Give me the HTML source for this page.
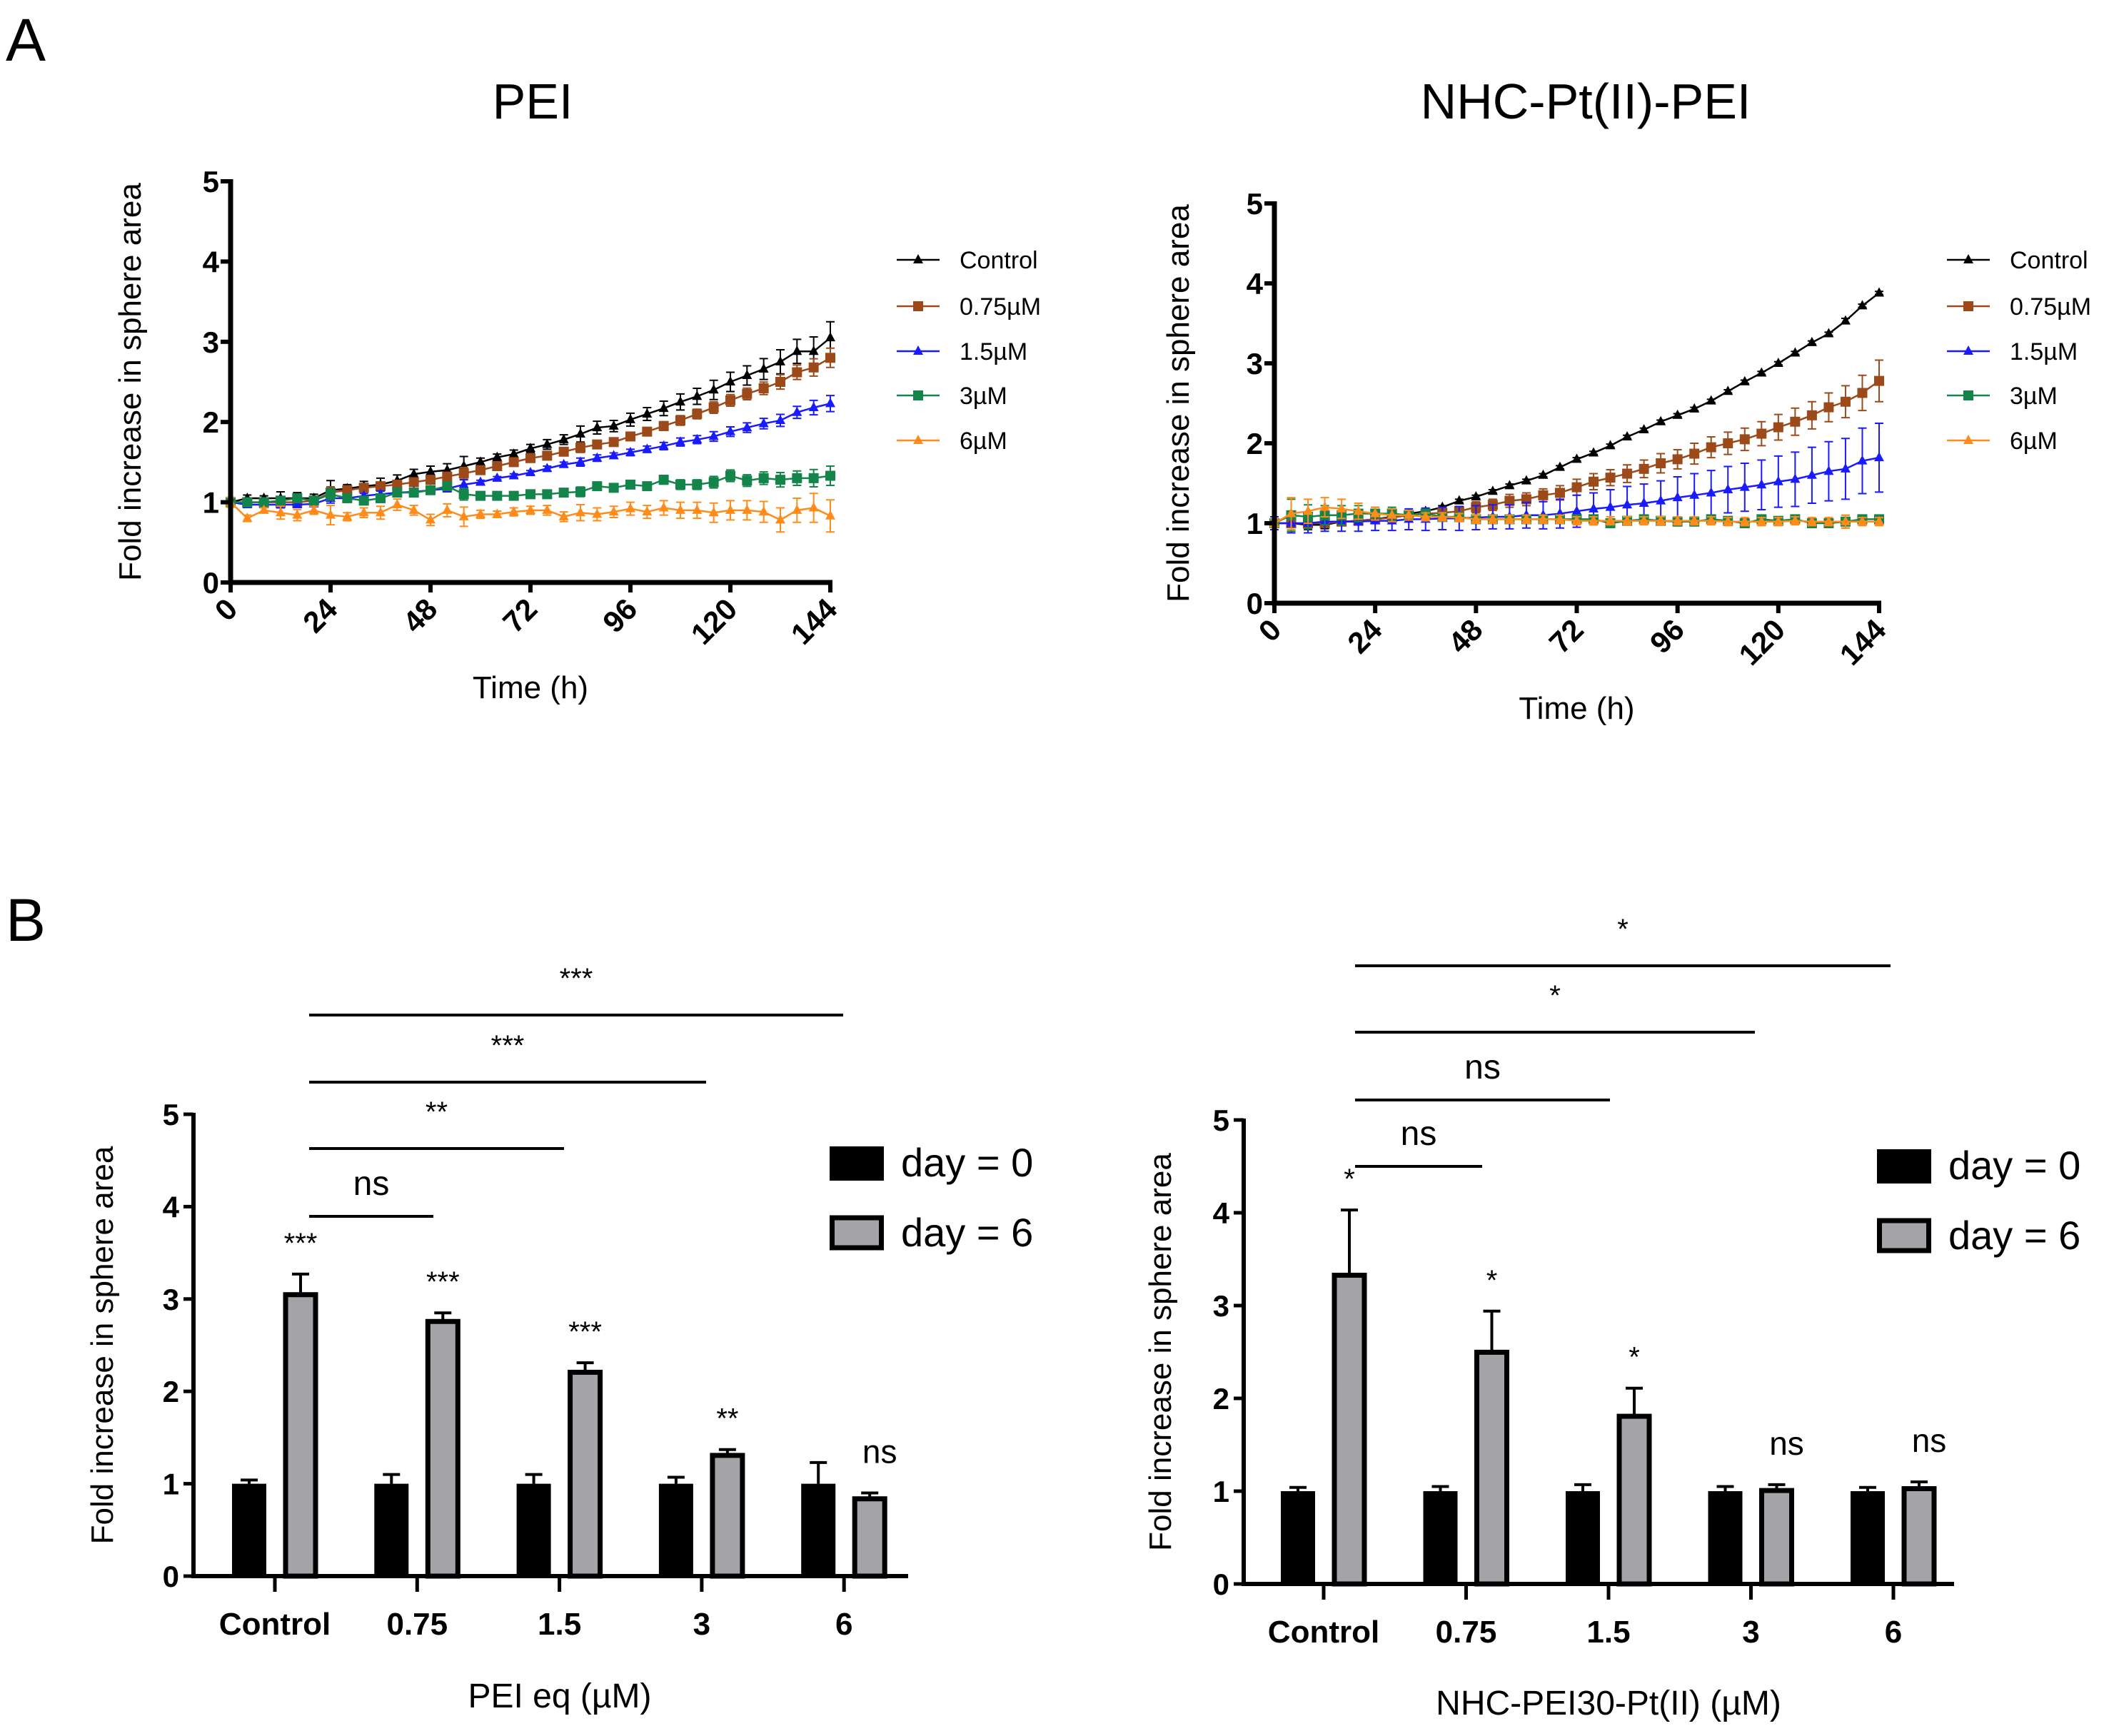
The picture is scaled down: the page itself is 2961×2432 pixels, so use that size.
<!DOCTYPE html>
<html><head><meta charset="utf-8"><style>
html,body{margin:0;padding:0;background:#fff}
svg{display:block}
text{font-family:"Liberation Sans",Arial,sans-serif}
</style></head><body>
<svg id="fig" width="2961" height="2432" viewBox="0 0 2961 2432" xmlns="http://www.w3.org/2000/svg">
<text x="8" y="85" font-size="84">A</text>
<text x="8" y="1318" font-size="84">B</text>
<text x="746" y="166" font-size="70" text-anchor="middle">PEI</text>
<text x="2221" y="166" font-size="70" text-anchor="middle">NHC-Pt(II)-PEI</text>
</svg>
<script>
var hours=[];for(var h=0;h<=144;h+=4)hours.push(h);
var seriesNames=["Control","0.75\u00b5M","1.5\u00b5M","3\u00b5M","6\u00b5M"];
var peiControl=[1.0,1.05,1.05,1.05,1.05,1.05,1.15,1.17,1.2,1.22,1.27,1.35,1.38,1.4,1.45,1.5,1.56,1.6,1.67,1.72,1.78,1.85,1.93,1.95,2.03,2.1,2.17,2.25,2.32,2.4,2.5,2.58,2.66,2.75,2.88,2.88,3.05];
var pei075=[1.0,1.0,1.0,1.0,1.0,1.02,1.12,1.15,1.18,1.2,1.22,1.25,1.28,1.32,1.36,1.4,1.45,1.5,1.55,1.58,1.63,1.68,1.72,1.75,1.82,1.88,1.95,2.02,2.1,2.18,2.27,2.35,2.42,2.5,2.62,2.68,2.8];
var pei15=[1.0,0.97,0.97,0.97,0.97,0.98,1.05,1.05,1.08,1.1,1.12,1.13,1.15,1.17,1.22,1.25,1.3,1.33,1.37,1.42,1.47,1.5,1.55,1.58,1.62,1.66,1.7,1.75,1.78,1.82,1.88,1.93,1.98,2.02,2.12,2.18,2.23];
var pei3=[1.0,1.0,1.0,1.02,1.05,1.02,1.1,1.05,1.02,1.05,1.12,1.12,1.15,1.2,1.1,1.08,1.08,1.08,1.1,1.1,1.12,1.13,1.2,1.18,1.22,1.2,1.28,1.22,1.22,1.25,1.33,1.27,1.3,1.28,1.3,1.3,1.33];
var pei6=[1.0,0.8,0.9,0.87,0.84,0.9,0.84,0.82,0.87,0.87,0.97,0.9,0.78,0.9,0.82,0.85,0.85,0.88,0.9,0.9,0.82,0.87,0.85,0.88,0.92,0.88,0.93,0.9,0.9,0.87,0.9,0.9,0.88,0.78,0.9,0.93,0.83];
var peiErr=[0.06,0.04,0.03,0.08,0.07,0.05,0.12,0.05,0.06,0.08,0.07,0.06,0.07,0.08,0.12,0.05,0.04,0.05,0.05,0.06,0.06,0.1,0.08,0.07,0.08,0.08,0.09,0.1,0.1,0.12,0.12,0.12,0.13,0.15,0.15,0.18,0.2];
var nhcControl=[1.0,1.0,0.98,0.98,1.02,1.03,1.05,1.08,1.12,1.15,1.2,1.28,1.33,1.4,1.47,1.53,1.6,1.7,1.8,1.88,1.97,2.08,2.17,2.27,2.35,2.43,2.53,2.65,2.77,2.88,3.0,3.13,3.26,3.37,3.53,3.72,3.88];
var nhc075=[1.0,1.0,1.0,1.0,1.02,1.03,1.05,1.07,1.1,1.12,1.13,1.15,1.2,1.23,1.28,1.3,1.35,1.38,1.45,1.52,1.57,1.62,1.68,1.75,1.8,1.87,1.95,2.0,2.05,2.12,2.2,2.27,2.35,2.45,2.52,2.63,2.78];
var nhc15=[1.0,1.0,1.0,1.02,1.02,1.02,1.03,1.03,1.05,1.05,1.06,1.06,1.07,1.08,1.08,1.1,1.1,1.12,1.15,1.18,1.2,1.23,1.25,1.28,1.32,1.35,1.38,1.42,1.45,1.48,1.52,1.55,1.6,1.65,1.68,1.78,1.82];
var nhc3=[1.0,1.1,1.08,1.1,1.1,1.12,1.12,1.12,1.1,1.12,1.08,1.08,1.05,1.05,1.05,1.05,1.05,1.05,1.05,1.05,1.0,1.03,1.05,1.03,1.02,1.02,1.05,1.03,1.0,1.05,1.03,1.05,1.0,1.0,1.02,1.05,1.05];
var nhc6=[1.0,1.12,1.15,1.2,1.18,1.15,1.12,1.1,1.1,1.08,1.08,1.07,1.05,1.05,1.05,1.05,1.05,1.05,1.03,1.03,1.03,1.03,1.03,1.03,1.03,1.03,1.03,1.02,1.02,1.02,1.02,1.03,1.02,1.02,1.02,1.02,1.02];
var nhcErr075=[0.03,0.05,0.05,0.05,0.05,0.05,0.05,0.05,0.05,0.06,0.06,0.06,0.07,0.07,0.08,0.08,0.08,0.09,0.1,0.1,0.1,0.11,0.11,0.12,0.12,0.13,0.13,0.14,0.14,0.15,0.16,0.17,0.17,0.18,0.2,0.22,0.26];
var nhcErr15=[0.08,0.12,0.12,0.12,0.12,0.12,0.12,0.12,0.13,0.14,0.14,0.15,0.15,0.15,0.15,0.16,0.17,0.18,0.2,0.2,0.22,0.23,0.24,0.25,0.26,0.27,0.28,0.29,0.3,0.31,0.32,0.34,0.35,0.37,0.38,0.41,0.43];
var nhcErrSmall=[0.05,0.2,0.15,0.12,0.12,0.1,0.08,0.08,0.06,0.05,0.05,0.05,0.05,0.05,0.05,0.05,0.05,0.05,0.05,0.05,0.05,0.05,0.05,0.05,0.05,0.05,0.05,0.05,0.05,0.05,0.05,0.05,0.05,0.05,0.08,0.05,0.05];
var lineYTicks=[0,1,2,3,4,5];
var lineXTicks=[0,24,48,72,96,120,144];
var barCategories=["Control","0.75","1.5","3","6"];
var peiDay0=[1,1,1,1,1];
var peiDay0Err=[0.04,0.1,0.1,0.07,0.23];
var peiDay6=[3.07,2.78,2.23,1.33,0.86];
var peiDay6Err=[0.2,0.07,0.08,0.04,0.04];
var peiStars=["***","***","***","**","ns"];
var nhcDay0=[1,1,1,1,1];
var nhcDay0Err=[0.04,0.05,0.07,0.05,0.04];
var nhcDay6=[3.35,2.52,1.83,1.03,1.05];
var nhcDay6Err=[0.68,0.42,0.28,0.04,0.05];
var nhcStars=["*","*","*","ns","ns"];
var peiCompLabels=["ns","**","***","***"];
var nhcCompLabels=["ns","ns","*","*"];

var NS="http://www.w3.org/2000/svg",svg=document.getElementById('fig');
function el(t,a,p){var e=document.createElementNS(NS,t);for(var k in a)e.setAttribute(k,a[k]);(p||svg).appendChild(e);return e;}
var colors=["#000000","#9c4a1a","#1a1aff","#13854a","#ff8c1a"];
var shapes=["tri","sq","tri","sq","tri"];
function marker(g,s,x,y,c){
  var m;
  if(s==="tri"){m=el('polygon',{points:(x)+','+(y-8)+' '+(x-7)+','+(y+5)+' '+(x+7)+','+(y+5),fill:c},g);}
  else{m=el('rect',{x:x-7,y:y-7,width:14,height:14,fill:c},g);}
  
  
}
function lineChart(o){
  var X=function(h){return o.x0+(h/144)*(o.x1-o.x0);};
  var Y=function(v){return o.y0-(v/5)*(o.y0-o.y5);};
  var g=el('g',{});
  o.series.forEach(function(s,i){
    var sg=el('g',{},g);
    var pts=s.map(function(v,j){return X(hours[j])+','+Y(v);}).join(' ');
    el('polyline',{points:pts,fill:'none',stroke:colors[i],'stroke-width':2.5},sg);
    var e=o.errs[i];
    s.forEach(function(v,j){
      var x=X(hours[j]),yt=Y(v+e[j]),yb=Y(v-e[j]);
      el('path',{d:'M'+x+' '+yt+'V'+yb+'M'+(x-6)+' '+yt+'H'+(x+6)+'M'+(x-6)+' '+yb+'H'+(x+6),stroke:colors[i],'stroke-width':2,fill:'none'},sg);
    });
    s.forEach(function(v,j){marker(sg,shapes[i],X(hours[j]),Y(v),colors[i]);});
  });
  var ax=el('path',{d:'M'+o.x0+' '+(o.y5-3)+'V'+o.y0+'H'+(o.x1+3),stroke:'#000','stroke-width':7,fill:'none'},g);
  
  lineYTicks.forEach(function(t){
    var y=Y(t);el('line',{x1:o.x0-14,x2:o.x0,y1:y,y2:y,stroke:'#000','stroke-width':6},g);
    var tx=el('text',{x:o.x0-16,y:y+15,'font-size':42,'font-weight':'bold','text-anchor':'end'},g);tx.textContent=t;
    
  });
  lineXTicks.forEach(function(t){
    var x=X(t);el('line',{x1:x,x2:x,y1:o.y0,y2:o.y0+14,stroke:'#000','stroke-width':6},g);
    var tx=el('text',{x:x+12,y:o.y0+40,'font-size':42,'font-weight':'bold','text-anchor':'end',transform:'rotate(-45 '+(x+12)+' '+(o.y0+40)+')'},g);tx.textContent=t;
    
  });
  var xt=el('text',{x:(o.x0+o.x1)/2,y:o.y0+162,'font-size':44,'text-anchor':'middle'},g);xt.textContent='Time (h)';
  
  var yt=el('text',{x:o.ytx,y:(o.y0+o.y5)/2,'font-size':44,'text-anchor':'middle',transform:'rotate(-90 '+o.ytx+' '+((o.y0+o.y5)/2)+')'},g);yt.textContent='Fold increase in sphere area';
  
  var lg=el('g',{},g);
  var rows=[364,429,492,554,617];
  seriesNames.forEach(function(n,i){
    var eg=el('g',{},lg);
    el('line',{x1:o.lx,x2:o.lx+60,y1:rows[i],y2:rows[i],stroke:colors[i],'stroke-width':2.5},eg);
    marker(eg,shapes[i],o.lx+30,rows[i],colors[i]);
    var t=el('text',{x:o.lx+88,y:rows[i]+12,'font-size':34},eg);t.textContent=n;
  });
}
lineChart({name:'pei-line-chart',x0:323,x1:1163,y0:816,y5:254,ytx:197,lx:1256,series:[peiControl,pei075,pei15,pei3,pei6],errs:[peiErr,peiErr.map(function(e){return e*0.6;}),peiErr.map(function(e){return e*0.5;}),peiErr.map(function(e){return e*0.6;}),peiErr]});
lineChart({name:'nhc-line-chart',x0:1785,x1:2632,y0:845,y5:285,ytx:1665,lx:2727,series:[nhcControl,nhc075,nhc15,nhc3,nhc6],errs:[nhcErrSmall.map(function(e){return e*0.4;}),nhcErr075,nhcErr15,nhcErrSmall,nhcErrSmall]});

function barChart(o){
  var Y=function(v){return o.y0-(v/5)*(o.y0-o.y5);};
  var g=el('g',{});
  barCategories.forEach(function(c,i){
    var cx=o.c0+i*o.step;
    var xb=cx-36-24;
    var e0=o.d0e[i],v0=o.d0[i];
    el('path',{d:'M'+(xb+24)+' '+Y(v0)+'V'+Y(v0+e0)+'M'+(xb+12)+' '+Y(v0+e0)+'H'+(xb+36),stroke:'#000','stroke-width':4},g);
    var b=el('rect',{x:xb,y:Y(v0),width:48,height:o.y0-Y(v0),fill:'#000'},g);
    
    var xg=cx+36-24,v6=o.d6[i],e6=o.d6e[i];
    el('path',{d:'M'+(xg+24)+' '+Y(v6)+'V'+Y(v6+e6)+'M'+(xg+12)+' '+Y(v6+e6)+'H'+(xg+36),stroke:'#000','stroke-width':4},g);
    var b2=el('rect',{x:xg+3,y:Y(v6)+3,width:42,height:o.y0-Y(v6)-3,fill:'#a3a3a8',stroke:'#000','stroke-width':7},g);
    
    var isNs=o.stars[i]==='ns';
    var st=el('text',{x:xg+24+(isNs?14:0),y:Y(v6+e6)-(isNs?42:30),'font-size':isNs?46:40,'text-anchor':'middle'},g);st.textContent=o.stars[i];
    
    el('line',{x1:cx,x2:cx,y1:o.y0,y2:o.y0+22,stroke:'#000','stroke-width':5},g);
    var ct=el('text',{x:cx,y:o.y0+82,'font-size':44,'font-weight':'bold','text-anchor':'middle'},g);ct.textContent=c;
    
  });
  el('path',{d:'M'+o.x0+' '+(o.y5-2)+'V'+o.y0+'H'+o.x1,stroke:'#000','stroke-width':6,fill:'none'},g);
  [0,1,2,3,4,5].forEach(function(t){
    var y=Y(t);el('line',{x1:o.x0-14,x2:o.x0,y1:y,y2:y,stroke:'#000','stroke-width':5},g);
    var tx=el('text',{x:o.x0-20,y:y+15,'font-size':42,'font-weight':'bold','text-anchor':'end'},g);tx.textContent=t;
    
  });
  var yt=el('text',{x:o.ytx,y:(o.y0+o.y5)/2,'font-size':44,'text-anchor':'middle',transform:'rotate(-90 '+o.ytx+' '+((o.y0+o.y5)/2)+')'},g);yt.textContent='Fold increase in sphere area';
  
  var xt=el('text',{x:o.xtx,y:o.xty,'font-size':48,'text-anchor':'middle'},g);xt.textContent=o.xtitle;
  
  o.comps.forEach(function(cp,k){
    var ln=el('line',{x1:o.cl0,x2:o.compX[k],y1:o.compY[k],y2:o.compY[k],stroke:'#000','stroke-width':4},g);
    
    var isNs=cp==='ns';
    var t=el('text',{x:(o.cl0+o.compX[k])/2,y:o.compY[k]-(isNs?30:38),'font-size':isNs?48:40,'text-anchor':'middle'},g);t.textContent=cp;
    
  });
  var lg=el('g',{},g);
  el('rect',{x:o.lx,y:o.ly,width:76,height:48,fill:'#000'},lg);
  el('rect',{x:o.lx+3.5,y:o.ly+100,width:69,height:42,fill:'#a3a3a8',stroke:'#000','stroke-width':7},lg);
  var t1=el('text',{x:o.lx+100,y:o.ly+42,'font-size':56},lg);t1.textContent='day = 0';
  var t2=el('text',{x:o.lx+100,y:o.ly+140,'font-size':56},lg);t2.textContent='day = 6';
}
barChart({name:'pei-bar-chart',x0:271,x1:1272,y0:2208,y5:1561,c0:385,step:199.3,d0:peiDay0,d0e:peiDay0Err,d6:peiDay6,d6e:peiDay6Err,stars:peiStars,ytx:158,xtx:784,xty:2392,xtitle:'PEI eq (\u00b5M)',comps:peiCompLabels,cl0:433,compX:[607,790,989,1181],compY:[1704,1609,1516,1422],lx:1162,ly:1606});
barChart({name:'nhc-bar-chart',x0:1742,x1:2737,y0:2219,y5:1569,c0:1854,step:199.5,d0:nhcDay0,d0e:nhcDay0Err,d6:nhcDay6,d6e:nhcDay6Err,stars:nhcStars,ytx:1640,xtx:2253,xty:2402,xtitle:'NHC-PEI30-Pt(II) (\u00b5M)',comps:nhcCompLabels,cl0:1898,compX:[2076,2255,2458,2648],compY:[1634,1541,1446,1353],lx:2629,ly:1610});
</script>
</body></html>
